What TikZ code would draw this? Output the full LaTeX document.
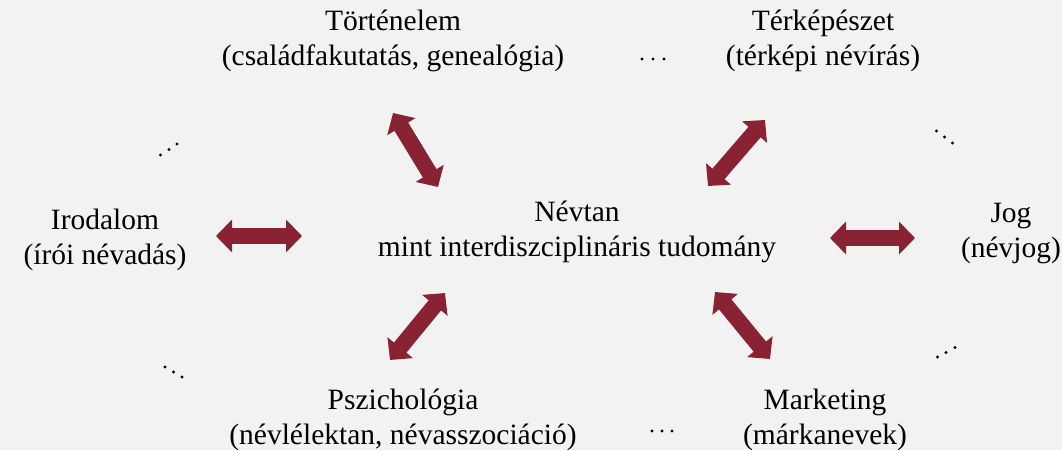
\documentclass[tikz,border=0pt]{standalone}
\usepackage{fontspec}
\setmainfont{Liberation Serif}
\usetikzlibrary{arrows.meta}
\definecolor{bg}{HTML}{F2F2F2}
\definecolor{arr}{RGB}{137,35,51}
\tikzset{
  lbl/.style={align=center, font=\fontsize{29.5}{35}\selectfont, inner sep=0pt},
  bigarrow/.style={draw=arr, line width=16pt, {Triangle[width=32pt,length=16pt]}-{Triangle[width=32pt,length=16pt]}},
  dot/.style={circle, fill=black, inner sep=0pt, minimum size=3.4pt}
}
\begin{document}
\begin{tikzpicture}[x=1pt,y=-1pt]
\fill[bg] (0,0) rectangle (1062,450);
\useasboundingbox (0,0) rectangle (1062,450);
\node[lbl] (tort) at (393,41) {Történelem\\(családfakutatás, genealógia)};
\node[lbl] (terk) at (823,41) {Térképészet\\(térképi névírás)};
\node[lbl] (irod) at (105,240) {Irodalom\\(írói névadás)};
\node[lbl] (nevt) at (577,232) {Névtan\\mint interdiszciplináris tudomány};
\node[lbl] (jog) at (1011,234) {Jog\\(névjog)};
\node[lbl] (pszi) at (403,420) {Pszichológia\\(névlélektan, névasszociáció)};
\node[lbl] (mark) at (825,420) {Marketing\\(márkanevek)};
% arrows
\coordinate (a1s) at (393,113); \coordinate (a1e) at (438,187);
\coordinate (a2s) at (765,120); \coordinate (a2e) at (708,186);
\coordinate (a3s) at (216,236); \coordinate (a3e) at (302,236);
\coordinate (a4s) at (830,238); \coordinate (a4e) at (915,238);
\coordinate (a5s) at (445,293); \coordinate (a5e) at (390,360);
\coordinate (a6s) at (715,292); \coordinate (a6e) at (770,359);
\draw[bigarrow] (a1s) -- (a1e);
\draw[bigarrow] (a2s) -- (a2e);
\draw[bigarrow] (a3s) -- (a3e);
\draw[bigarrow] (a4s) -- (a4e);
\draw[bigarrow] (a5s) -- (a5e);
\draw[bigarrow] (a6s) -- (a6e);
% dots
\foreach \n/\x/\y in {t1/642/59,t2/653/59,t3/664/59,
  b1/652/431,b2/662/431,b3/672/431,
  l1/160.5/155,l2/169/149.5,l3/177/144,
  r1/936.5/131,r2/944.5/137,r3/952.5/143,
  br1/937.5/357,br2/946/352.5,br3/955/347.5,
  bl1/165/367,bl2/173.5/372,bl3/182/377}
  \node[dot] (\n) at (\x,\y) {};
\end{tikzpicture}
\end{document}
